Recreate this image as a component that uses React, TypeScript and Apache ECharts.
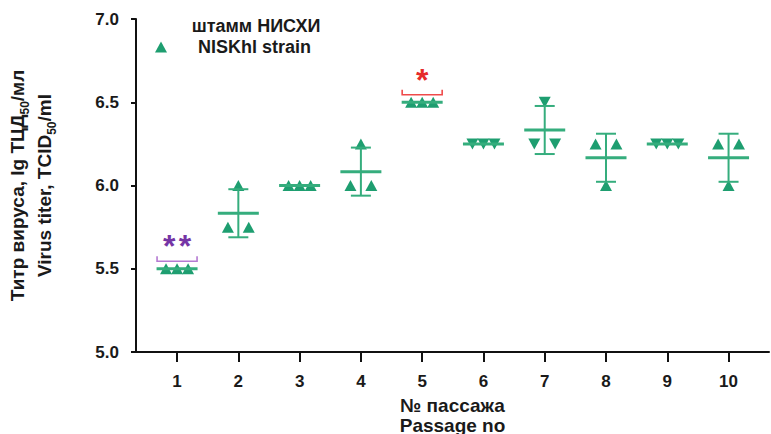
import React, { useEffect, useRef } from "react";
import * as echarts from "echarts";

// ---- data ----
const passages = [1, 2, 3, 4, 5, 6, 7, 8, 9, 10];
const replicate1 = [5.5, 6.0, 6.0, 6.25, 6.5, 6.25, 6.5, 6.25, 6.25, 6.25];
const replicate2 = [5.5, 5.75, 6.0, 6.0, 6.5, 6.25, 6.25, 6.25, 6.25, 6.25];
const replicate3 = [5.5, 5.75, 6.0, 6.0, 6.5, 6.25, 6.25, 6.0, 6.25, 6.0];
const downPassages = [6, 7, 9]; // passages drawn with inverted triangles
const sigPassages = [1, 5];
const sigLabels = ["**", "*"];
const yTicks = [5.0, 5.5, 6.0, 6.5, 7.0];

const seriesName = "NISKhl strain";
const legendTop = "штамм НИСХИ";

const GREEN = "#1e9e70";
const LINE_GREEN = "#35ad7d";
const sigColors = [
  { line: "#b57ad2", text: "#7535a5" },
  { line: "#ef4a4a", text: "#e62a2a" },
];
const FONT = "'Liberation Sans', Arial, sans-serif";

function stats(vals: number[]) {
  const n = vals.length;
  const mean = vals.reduce((a, b) => a + b, 0) / n;
  const v = vals.reduce((a, b) => a + (b - mean) * (b - mean), 0) / (n - 1);
  return { mean, sd: Math.sqrt(v) };
}

function jitter(vals: number[]): number[] {
  // spread identical values side by side (column scatter layout)
  const res: number[] = [];
  vals.forEach((v, i) => {
    const same = vals.map((w, j) => (w === v ? j : -1)).filter((j) => j >= 0);
    const k = same.indexOf(i);
    const n = same.length;
    const step = n === 3 ? 0.18 : 0.34;
    res.push(n === 1 ? 0 : (k - (n - 1) / 2) * step);
  });
  return res;
}

export default function App() {
  const ref = useRef<HTMLDivElement>(null);
  useEffect(() => {
    if (!ref.current) return;
    const chart = echarts.init(ref.current, null, { renderer: "svg" });

    const points: any[] = [];
    const bars: any[] = [];
    const sig: any[] = [];
    passages.forEach((p, i) => {
      const vals = [replicate1[i], replicate2[i], replicate3[i]];
      const jit = jitter(vals);
      const down = downPassages.includes(p);
      vals.forEach((v, k) => {
        points.push({ value: [p + jit[k], v], symbolRotate: down ? 180 : 0 });
      });
      const s = stats(vals);
      bars.push([p, s.mean, s.sd]);
      const si = sigPassages.indexOf(p);
      if (si >= 0) sig.push([p, s.mean, si]);
    });

    chart.setOption({
      animation: false,
      grid: { left: 136, right: 2, top: 19, bottom: 82, outerBoundsMode: "none", containLabel: false },
      legend: {
        left: 155,
        top: 38,
        padding: 0,
        itemWidth: 12,
        itemHeight: 11,
        data: [{ name: seriesName, icon: "triangle" }],
        textStyle: {
          fontFamily: FONT,
          fontWeight: "bold",
          fontSize: 18,
          color: "#1a1a1a",
          padding: [0, 0, 0, 26],
        },
      },
      graphic: [
        {
          type: "text",
          x: 256,
          y: 26,
          style: {
            text: legendTop,
            font: `bold 18px ${FONT}`,
            fill: "#1a1a1a",
            align: "center",
            verticalAlign: "middle",
            textAlign: "center",
            textVerticalAlign: "middle",
          },
        },
      ],
      xAxis: {
        type: "value",
        min: 0.33,
        max: 10.66,
        name: "№ пассажа\nPassage no",
        nameLocation: "middle",
        nameGap: 43,
        nameTextStyle: {
          fontFamily: FONT,
          fontWeight: "bold",
          fontSize: 19,
          color: "#1a1a1a",
          lineHeight: 20,
        },
        splitLine: { show: false },
        axisLine: { lineStyle: { color: "#111", width: 2 } },
        axisTick: {
          customValues: passages,
          length: 10,
          lineStyle: { color: "#111", width: 2 },
        },
        axisLabel: {
          customValues: passages,
          margin: 21,
          fontFamily: FONT,
          fontWeight: "bold",
          fontSize: 17,
          color: "#1a1a1a",
        },
      },
      yAxis: {
        type: "value",
        min: 5,
        max: 7,
        interval: 0.5,
        name: "Титр вируса, lg ТЦД{sub|50}/мл\nVirus titer, TCID{sub|50}/ml",
        nameLocation: "middle",
        nameGap: 78,
        nameTextStyle: {
          fontFamily: FONT,
          fontWeight: "bold",
          fontSize: 19,
          color: "#1a1a1a",
          lineHeight: 27,
          rich: {
            sub: {
              fontFamily: FONT,
              fontWeight: "bold",
              fontSize: 12,
              color: "#1a1a1a",
              verticalAlign: "bottom",
              padding: [7, 0, 0, 0],
            },
          },
        },
        splitLine: { show: false },
        axisLine: { show: true, lineStyle: { color: "#111", width: 2 } },
        axisTick: { length: 5, lineStyle: { color: "#111", width: 2 } },
        axisLabel: {
          margin: 17,
          fontFamily: FONT,
          fontWeight: "bold",
          fontSize: 17,
          color: "#1a1a1a",
          formatter: (v: number) => (yTicks.includes(v) ? v.toFixed(1) : ""),
        },
      },
      series: [
        {
          name: seriesName,
          type: "scatter",
          data: points,
          symbol: "triangle",
          symbolSize: [12, 11],
          itemStyle: { color: GREEN, opacity: 1 },
          z: 3,
        },
        {
          name: "mean ± SD",
          type: "custom",
          data: bars,
          encode: { x: 0, y: 1 },
          clip: false,
          z: 4,
          renderItem: (params: any, api: any) => {
            const x = api.value(0);
            const m = api.value(1);
            const sd = api.value(2);
            const c = api.coord([x, m]);
            const t = api.coord([x, m + sd]);
            const b = api.coord([x, m - sd]);
            const st = { stroke: LINE_GREEN, lineWidth: 2 };
            const children: any[] = [
              { type: "line", shape: { x1: c[0] - 20.5, y1: c[1], x2: c[0] + 20.5, y2: c[1] }, style: { stroke: LINE_GREEN, lineWidth: 3 } },
            ];
            if (sd > 0) {
              children.push(
                { type: "line", shape: { x1: c[0], y1: t[1], x2: c[0], y2: b[1] }, style: st },
                { type: "line", shape: { x1: c[0] - 10, y1: t[1], x2: c[0] + 10, y2: t[1] }, style: st },
                { type: "line", shape: { x1: c[0] - 10, y1: b[1], x2: c[0] + 10, y2: b[1] }, style: st }
              );
            }
            return { type: "group", children };
          },
        },
        {
          name: "significance",
          type: "custom",
          data: sig,
          encode: { x: 0, y: 1 },
          clip: false,
          z: 5,
          renderItem: (params: any, api: any) => {
            const x = api.value(0);
            const m = api.value(1);
            const idx = api.value(2);
            const c = api.coord([x, m]);
            const col = sigColors[idx];
            const yb = c[1] - 7.5;
            const label = sigLabels[idx];
            const n = label.length;
            const children: any[] = [
              {
                type: "polyline",
                shape: { points: [[c[0] - 20, yb - 5], [c[0] - 20, yb], [c[0] + 20, yb], [c[0] + 20, yb - 5]] },
                style: { stroke: col.line, lineWidth: 1.6, fill: null },
              },
            ];
            for (let k = 0; k < n; k++) {
              children.push({
                type: "text",
                x: c[0] + (k - (n - 1) / 2) * 15.6,
                y: c[1] - 22.5,
                style: {
                  text: label[k],
                  font: `bold 32px ${FONT}`,
                  fill: col.text,
                  align: "center",
                  verticalAlign: "middle",
                },
              });
            }
            return { type: "group", children };
          },
        },
      ],
    });
    return () => chart.dispose();
  }, []);
  return (
    <div
      ref={ref}
      style={{ position: "fixed", left: 0, top: 0, width: 771, height: 434, background: "#fff" }}
    />
  );
}
